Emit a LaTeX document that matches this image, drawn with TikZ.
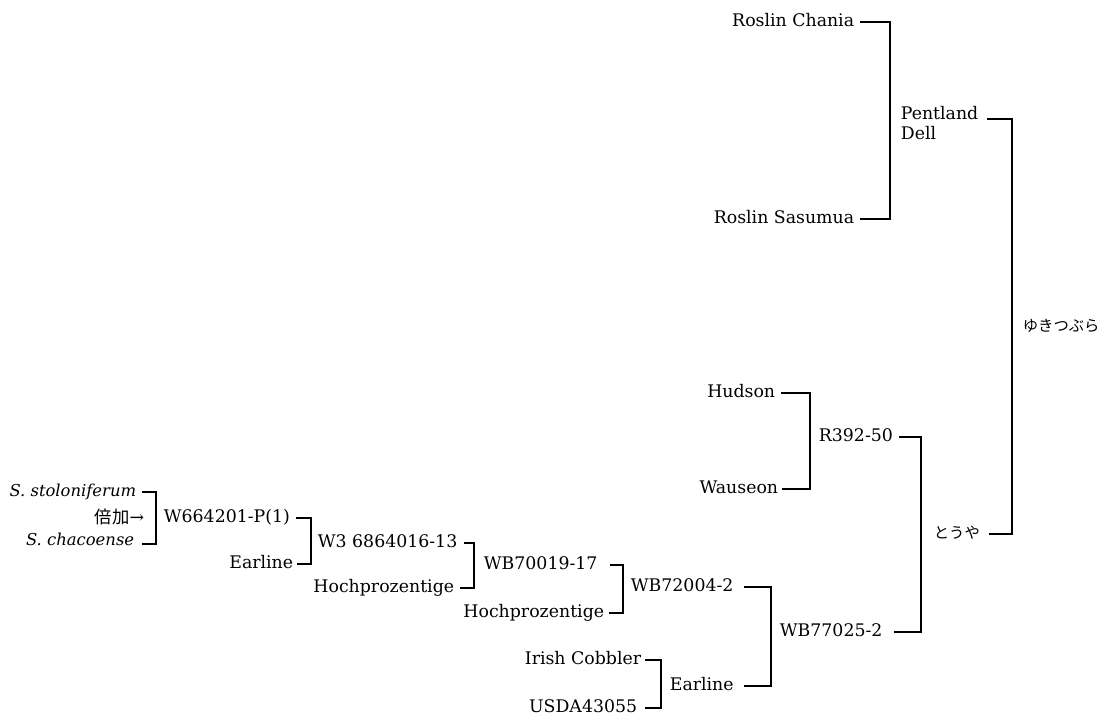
\documentclass[tikz,border=0pt]{standalone}
\usepackage{fontspec}
\setmainfont{DejaVu Serif}
\newfontfamily\jp{Noto Sans CJK JP}
\begin{document}
\begin{tikzpicture}[x=0.75pt, y=-0.75pt, line width=1.3pt,
  font=\fontsize{13pt}{15.5pt}\selectfont,
  lbl/.style = {inner sep=0pt, text height=0.73em, text depth=0pt},
  leaf/.style = {lbl, anchor=east},
  cross/.style = {lbl, anchor=west},
  species/.style = {leaf, font=\itshape\fontsize{12.3pt}{15pt}\selectfont},
  kana/.style = {cross, font=\jp\fontsize{11.5pt}{14pt}\selectfont}]
  \useasboundingbox (0,0) rectangle (1105,722);
  % top half
  \node[leaf] (rc) at (855, 22) {Roslin Chania};
  \node[leaf] (rs) at (855, 219) {Roslin Sasumua};
  \node[inner sep=0pt, anchor=west, align=left] (pd) at (900, 123) {Pentland\\Dell};
  \node[kana] (yuki) at (1022, 327) {ゆきつぶら};
  \coordinate (j1) at (890, 120);
  \coordinate (j2) at (1012, 119);
  % middle
  \node[leaf] (hud) at (776, 393) {Hudson};
  \node[leaf] (wau) at (779, 489) {Wauseon};
  \node[cross] (r392) at (818, 437) {R392-50};
  \node[kana] (toya) at (933, 534) {とうや};
  \coordinate (j3) at (810, 437);
  \coordinate (j4) at (921, 534);
  % bottom
  \node[cross] (wb77) at (779, 632) {WB77025-2};
  \node[cross] (wb72) at (630, 587) {WB72004-2};
  \node[cross] (ear2) at (669, 686) {Earline};
  \node[leaf] (ic) at (642, 660) {Irish Cobbler};
  \node[leaf] (usda) at (638, 708) {USDA43055};
  \node[cross] (wb70) at (483, 565) {WB70019-17};
  \node[leaf] (hoch2) at (605, 613) {Hochprozentige};
  \node[cross] (w3) at (317, 543) {W3 6864016-13};
  \node[leaf] (hoch1) at (455, 588) {Hochprozentige};
  \node[cross] (w66) at (163, 518) {W664201-P(1)};
  \node[leaf] (ear1) at (294, 564) {Earline};
  \node[species] (sst) at (137, 492) {S. stoloniferum};
  \node[species] (sch) at (135, 541) {S. chacoense};
  \node[leaf] (baika) at (145, 519) {{\jp 倍加}→};
  \coordinate (j5) at (771, 632);
  \coordinate (j6) at (661, 686);
  \coordinate (j7) at (623, 587);
  \coordinate (j8) at (474, 565);
  \coordinate (j9) at (311, 543);
  \coordinate (j10) at (156, 518);
  % brackets
  \draw ([xshift=4pt]rc.east) -| (j1) |- ([xshift=4pt]rs.east);
  \draw ([xshift=6pt]pd.east |- j2) -| (j2) |- ([xshift=6pt]toya.east);
  \draw ([xshift=4pt]hud.east) -| (j3) |- ([xshift=2pt]wau.east);
  \draw ([xshift=4pt]r392.east) -| (j4) |- ([xshift=8pt]wb77.east);
  \draw ([xshift=7pt]wb72.east) -| (j5) |- ([xshift=7pt]ear2.east);
  \draw ([xshift=2pt]ic.east) -| (j6) |- ([xshift=5pt]usda.east);
  \draw ([xshift=9pt]wb70.east) -| (j7) |- ([xshift=3pt]hoch2.east);
  \draw ([xshift=4pt]w3.east) -| (j8) |- ([xshift=4pt]hoch1.east);
  \draw ([xshift=4pt]w66.east) -| (j9) |- ([xshift=2pt]ear1.east);
  \draw ([xshift=4pt]sst.east) -| (j10) |- ([xshift=5pt,yshift=-2pt]sch.east);
\end{tikzpicture}
\end{document}
